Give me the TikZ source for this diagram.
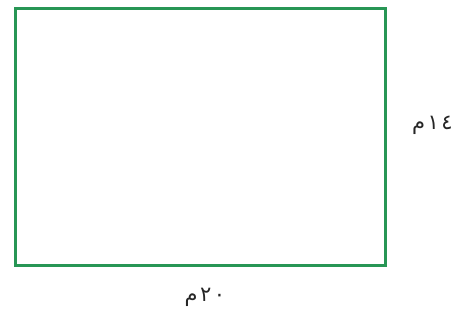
\documentclass[tikz,border=0pt]{standalone}
\usepackage{fontspec}
\newfontfamily\arabicfont[Script=Arabic,LetterSpace=12]{DejaVu Sans}
\TeXXeTstate=1
\definecolor{framegreen}{RGB}{40,150,85}
\begin{document}
\begin{tikzpicture}[x=1pt,y=-1pt,
  lbl/.style={font=\arabicfont\fontsize{21}{24}\selectfont, inner sep=0pt, text=black!85}]
\useasboundingbox (0,0) rectangle (459,320);
\draw[framegreen, line width=3pt] (15,9) rectangle (385,266);
\node[lbl, anchor=west] (side) at (412,125) {\beginR ١٤م\endR};
\node[lbl] (base) at (205,297) {\beginR ٢٠م\endR};
\end{tikzpicture}
\end{document}
